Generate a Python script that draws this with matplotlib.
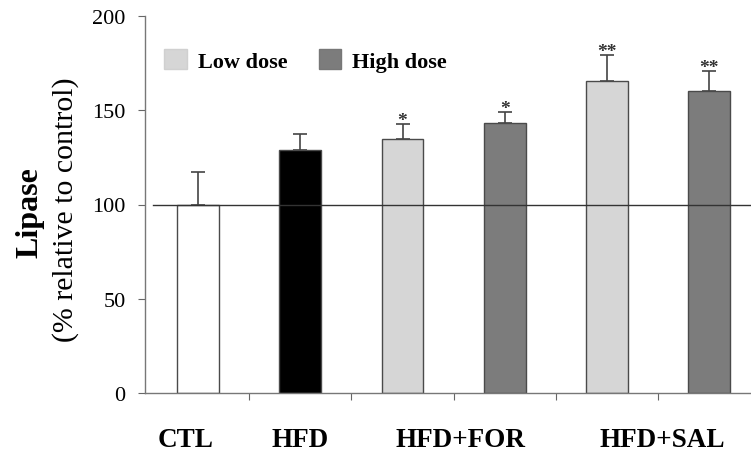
import matplotlib
matplotlib.use("Agg")
import matplotlib.pyplot as plt
from matplotlib.patches import Patch

categories = ["CTL", "HFD", "HFD+FOR low", "HFD+FOR high", "HFD+SAL low", "HFD+SAL high"]
values = [100, 129, 134.5, 143, 165.5, 160]
errors = [17.5, 8.5, 8, 6, 14, 11]
stars = ["", "", "*", "*", "**", "**"]
group_labels = ["CTL", "HFD", "HFD+FOR", "HFD+SAL"]
group_positions = [-0.12, 1, 2.57, 4.54]
colors = ["white", "black", "#d6d6d6", "#7c7c7c", "#d6d6d6", "#7c7c7c"]

plt.rcParams['font.family'] = ['Liberation Serif', 'DejaVu Serif']

fig = plt.figure(figsize=(7.51, 4.52), dpi=100)
ax = fig.add_axes([145/751, 1-394/452, (750-145)/751, (394-17)/452])

x = list(range(len(values)))
ax.bar(x, values, width=0.41, color=colors, edgecolor="#4a4a4a", linewidth=1.0, zorder=2)
ax.errorbar(x, values, yerr=[[0]*len(errors), errors], fmt='none', ecolor="#444444",
            elinewidth=1.2, capsize=5, capthick=1.2, zorder=1)
ax.plot([-0.44, 5.45], [100, 100], color="#333333", linewidth=1.0, zorder=3, clip_on=False)

for xi, v, e, s in zip(x, values, errors, stars):
    if s:
        ax.text(xi, v + e - 0.5, s, ha='center', va='baseline', fontsize=14,
                fontweight='bold', color="#333333")

ax.set_xlim(-0.52, 5.40)
ax.set_ylim(0, 200)
ax.set_yticks([0, 50, 100, 150, 200])
ax.tick_params(axis='y', labelsize=16, length=5, width=0.8, color="#666666", pad=9)
ax.set_xticks([0.5, 1.5, 2.5, 3.5, 4.5])
ax.set_xticklabels([])
ax.tick_params(axis='x', length=5, width=0.8, color="#666666")
for sp in ['top', 'right']:
    ax.spines[sp].set_visible(False)
for sp in ['left', 'bottom']:
    ax.spines[sp].set_color("#777777")
    ax.spines[sp].set_linewidth(1.0)

for lab, pos in zip(group_labels, group_positions):
    ax.text(pos, -(447-394)/377, lab, transform=ax.get_xaxis_transform(), ha='center',
            va='baseline', fontsize=19.5, fontweight='bold')

fig.text(30/751, 1-213/452, "Lipase", rotation=90, ha='center', va='center',
         fontsize=23, fontweight='bold')
fig.text(66/751, 1-210/452, "(% relative to control)", rotation=90, ha='center', va='center',
         fontsize=21.5)

handles = [Patch(facecolor="#d6d6d6", edgecolor="#d0d0d0", label="Low dose"),
           Patch(facecolor="#7c7c7c", edgecolor="#777777", label="High dose")]
leg = ax.legend(handles=handles, ncol=2, loc='upper left',
                bbox_to_anchor=(160/751, 1-46/452), bbox_transform=fig.transFigure,
                frameon=False, prop={'size': 16, 'weight': 'bold'},
                handlelength=1.0, handleheight=1.0, handletextpad=0.5, columnspacing=1.4,
                borderpad=0.2, borderaxespad=0)

fig.savefig("out.png", dpi=100)
